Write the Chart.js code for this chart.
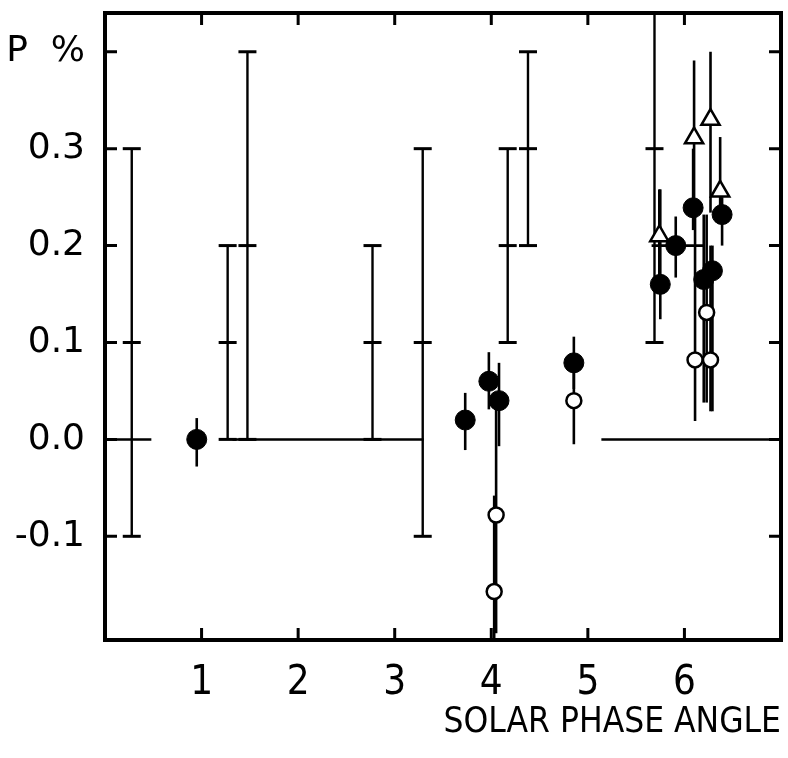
<!DOCTYPE html>
<html><head><meta charset="utf-8">
<script src="https://cdn.jsdelivr.net/npm/chart.js@4"></script>
<style>html,body{margin:0;padding:0;background:#fff}canvas{display:block}</style>
</head><body>
<canvas id="c" width="788" height="758"></canvas>
<script>
// ---- tick labels ----
const xTickValues = [1, 2, 3, 4, 5, 6];
const yTickValues = [-0.1, 0.0, 0.1, 0.2, 0.3, 0.4];
const yTickLabels = ['-0.1', '0.0', '0.1', '0.2', '0.3', 'P  %'];

// ---- capped range bars (x, low, high, middle mark) ----
const rangeX   = [0.277, 1.27, 1.475, 2.77, 3.29, 4.17, 4.38, 5.69];
const rangeLo  = [-0.1, 0.0, 0.0, 0.0, -0.1, 0.1, 0.2, 0.1];
const rangeHi  = [0.3, 0.2, 0.4, 0.2, 0.3, 0.3, 0.4, 0.5];
const rangeMid = [0.1, 0.1, 0.2, 0.1, 0.1, 0.2, 0.3, 0.3];

// ---- filled circles ----
const filledX  = [0.95, 3.73, 3.975, 4.08, 4.855, 5.75, 5.91, 6.09, 6.20, 6.29, 6.39];
const filledY  = [0.0, 0.02, 0.06, 0.04, 0.079, 0.16, 0.2, 0.239, 0.165, 0.174, 0.232];
const filledLo = [-0.028, -0.011, 0.031, -0.007, 0.052, 0.124, 0.167, 0.216, 0.038, 0.029, 0.2];
const filledHi = [0.022, 0.048, 0.09, 0.079, 0.106, 0.258, 0.23, 0.30, 0.232, 0.20, 0.25];

// ---- open circles ----
const openX  = [4.855, 4.05, 4.03, 6.11, 6.27, 6.23];
const openY  = [0.04, -0.078, -0.157, 0.082, 0.082, 0.131];
const openLo = [-0.005, -0.2, -0.23, 0.019, 0.029, 0.038];
const openHi = [0.07, 0.031, -0.058, 0.234, 0.20, 0.232];

// ---- open triangles ----
const triX  = [5.74, 6.10, 6.27, 6.37];
const triY  = [0.21, 0.311, 0.33, 0.256];
const triLo = [0.16, 0.239, 0.234, 0.232];
const triHi = [0.258, 0.391, 0.40, 0.312];

// ---- horizontal error bar ----
const hBarY = [0.2];
const hBarFrom = [5.66];
const hBarTo = [6.21];

// ---- zero-level line segments ----
const zeroFrom = [0.02, 1.32, 5.14];
const zeroTo   = [0.48, 3.30, 6.98];

const zeroData = [];
zeroFrom.forEach((f, i) => {
  zeroData.push({x: f, y: 0}, {x: zeroTo[i], y: 0});
  if (i < zeroFrom.length - 1) zeroData.push({x: (zeroTo[i] + zeroFrom[i + 1]) / 2, y: null});
});
const toPts = (xs, ys) => xs.map((v, i) => ({x: v, y: ys[i]}));

const errPlugin = {
  id: 'errbars',
  beforeDatasetsDraw(chart) {
    const {ctx, chartArea: a, scales: {x, y}} = chart;
    ctx.save();
    ctx.beginPath();
    ctx.rect(a.left, a.top, a.right - a.left, a.bottom - a.top);
    ctx.clip();
    ctx.strokeStyle = '#000';
    ctx.lineCap = 'butt';
    const vline = (xv, lo, hi, w) => {
      const px = x.getPixelForValue(xv);
      ctx.lineWidth = w;
      ctx.beginPath();
      ctx.moveTo(px, y.getPixelForValue(lo));
      ctx.lineTo(px, y.getPixelForValue(hi));
      ctx.stroke();
    };
    const cap = (xv, yv, half, w) => {
      const px = x.getPixelForValue(xv), py = y.getPixelForValue(yv);
      ctx.lineWidth = w;
      ctx.beginPath();
      ctx.moveTo(px - half, py);
      ctx.lineTo(px + half, py);
      ctx.stroke();
    };
    rangeX.forEach((xv, i) => {
      vline(xv, rangeLo[i], rangeHi[i], 2.4);
      cap(xv, rangeLo[i], 9, 3);
      cap(xv, rangeHi[i], 9, 3);
      cap(xv, rangeMid[i], 9, 3);
    });
    filledX.forEach((xv, i) => vline(xv, filledLo[i], filledHi[i], 2.6));
    openX.forEach((xv, i) => vline(xv, openLo[i], openHi[i], 2.6));
    triX.forEach((xv, i) => vline(xv, triLo[i], triHi[i], 2.6));
    hBarY.forEach((yv, i) => {
      const py = y.getPixelForValue(yv);
      ctx.lineWidth = 2.6;
      ctx.beginPath();
      ctx.moveTo(x.getPixelForValue(hBarFrom[i]), py);
      ctx.lineTo(x.getPixelForValue(hBarTo[i]), py);
      ctx.stroke();
    });
    ctx.restore();
  },
  afterDraw(chart) {
    const {ctx, chartArea: a, scales: {x, y}} = chart;
    ctx.save();
    ctx.strokeStyle = '#000';
    ctx.lineWidth = 3;
    const tl = 12;
    xTickValues.forEach(v => {
      const px = x.getPixelForValue(v);
      ctx.beginPath();
      ctx.moveTo(px, a.bottom); ctx.lineTo(px, a.bottom - tl);
      ctx.moveTo(px, a.top); ctx.lineTo(px, a.top + tl);
      ctx.stroke();
    });
    yTickValues.forEach(v => {
      const py = y.getPixelForValue(v);
      ctx.beginPath();
      ctx.moveTo(a.left, py); ctx.lineTo(a.left + tl, py);
      ctx.moveTo(a.right, py); ctx.lineTo(a.right - tl, py);
      ctx.stroke();
    });
    ctx.lineWidth = 4;
    ctx.strokeRect(a.left, a.top, a.right - a.left, a.bottom - a.top);
    ctx.restore();
  }
};

new Chart(document.getElementById('c'), {
  type: 'scatter',
  data: {
    datasets: [
      {data: zeroData, showLine: true, spanGaps: false, borderColor: '#000', borderWidth: 2.5, pointRadius: 0, order: 4},
      {data: toPts(filledX, filledY), pointStyle: 'circle', pointRadius: 10, pointBackgroundColor: '#000', pointBorderColor: '#000', pointBorderWidth: 1, order: 3},
      {data: toPts(openX, openY), pointStyle: 'circle', pointRadius: 7.5, pointBackgroundColor: '#fff', pointBorderColor: '#000', pointBorderWidth: 2.5, order: 2},
      {data: toPts(triX, triY), pointStyle: 'triangle', pointRadius: 10.5, pointBackgroundColor: '#fff', pointBorderColor: '#000', pointBorderWidth: 2.5, order: 1}
    ]
  },
  options: {
    responsive: false,
    animation: false,
    devicePixelRatio: 1,
    layout: {autoPadding: false, padding: {top: 13, right: 7, bottom: 14, left: 0}},
    plugins: {legend: {display: false}, tooltip: {enabled: false}},
    scales: {
      x: {
        type: 'linear', min: 0, max: 7,
        afterFit: s => { s.height = 758 - 14 - 640; s.paddingLeft = 0; s.paddingRight = 0; },
        grid: {display: false, drawTicks: false},
        border: {display: false},
        afterBuildTicks: s => { s.ticks = xTickValues.map(v => ({value: v})); },
        ticks: {padding: 20, color: '#000', font: {family: "'DejaVu Sans Condensed', sans-serif", size: 40}},
        title: {display: true, text: 'SOLAR PHASE ANGLE', align: 'end', color: '#000', padding: {top: 0, bottom: 0},
                font: {family: "'DejaVu Sans Condensed', sans-serif", size: 35}}
      },
      y: {
        type: 'linear', min: -0.207, max: 0.44,
        afterFit: s => { s.width = 105; s.paddingTop = 0; s.paddingBottom = 0; },
        grid: {display: false, drawTicks: false},
        border: {display: false},
        afterBuildTicks: s => { s.ticks = yTickValues.map(v => ({value: v})); },
        ticks: {padding: 20, color: '#000',
                callback: (v) => { const i = yTickValues.findIndex(t => Math.abs(t - v) < 1e-9); return i >= 0 ? yTickLabels[i] : ''; },
                font: {family: "'DejaVu Sans', sans-serif", size: 36}}
      }
    }
  },
  plugins: [errPlugin]
});
</script></body></html>
